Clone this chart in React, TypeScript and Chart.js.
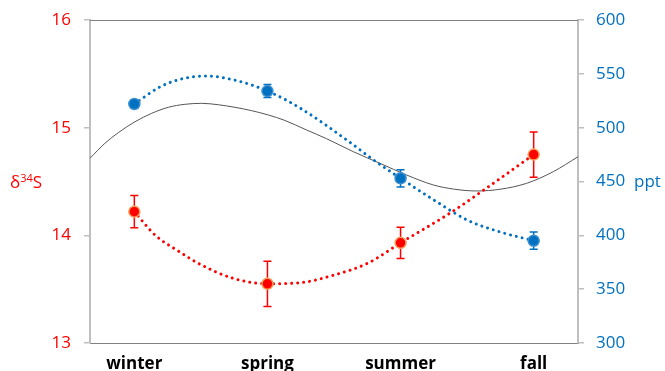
import React, { useEffect, useRef } from 'react';
import { Chart, registerables } from 'chart.js';
Chart.register(...registerables);

const seasons = ['winter', 'spring', 'summer', 'fall'];
const seasonX = [0, 1, 2, 3];
const d34S = [14.22, 13.55, 13.93, 14.75];
const d34SErr = [0.15, 0.21, 0.145, 0.21];
const ppt = [522, 534, 453, 395];
const pptErr = [4, 6, 8, 8];

const d34STrendX = [0, 0.158, 0.323, 0.496, 0.744, 1.0, 1.248, 1.496, 1.752, 2.0, 2.376, 2.624, 3.0];
const d34STrendY = [14.22, 14.0, 13.86, 13.73, 13.6, 13.55, 13.56, 13.63, 13.74, 13.93, 14.21, 14.42, 14.75];
const pptTrendX = [0, 0.195, 0.346, 0.534, 0.759, 1.0, 1.248, 1.624, 1.797, 2.0, 2.248, 2.504, 2.752, 3.0];
const pptTrendY = [522, 538, 545, 548, 544, 534, 518, 486, 470, 453, 433, 414, 403, 395];
const refX = [-0.333, -0.221, -0.121, 0.005, 0.13, 0.255, 0.38, 0.506, 0.63, 0.756, 0.881, 1.006, 1.131, 1.295, 1.445, 1.645, 1.845, 2.046, 2.246, 2.396, 2.572, 2.747, 2.947, 3.147, 3.333];
const refY = [14.716, 14.855, 14.953, 15.055, 15.133, 15.189, 15.217, 15.226, 15.213, 15.189, 15.158, 15.118, 15.067, 14.978, 14.897, 14.777, 14.669, 14.56, 14.468, 14.43, 14.412, 14.428, 14.483, 14.591, 14.73];

const leftTicks = [13, 14, 15, 16];
const rightTicks = [300, 350, 400, 450, 500, 550, 600];

const RED = '#FF0000';
const BLUE = '#0070C0';
const FONT = '"Open Sans", sans-serif';

const zip = (xs: number[], ys: number[]) => xs.map((x, i) => ({ x, y: ys[i] }));

const errorBarPlugin = {
  id: 'errorBars',
  beforeDatasetDraw(chart: any, args: any) {
    const ds = chart.data.datasets[args.index];
    if (!ds.errors) return;
    const ctx = chart.ctx;
    const xs = chart.scales.x;
    const ys = chart.scales[ds.yAxisID];
    ctx.save();
    ctx.strokeStyle = ds.errorColor;
    ctx.lineWidth = 1.5;
    ds.data.forEach((p: any, i: number) => {
      const px = xs.getPixelForValue(p.x);
      const top = ys.getPixelForValue(p.y + ds.errors[i]);
      const bot = ys.getPixelForValue(p.y - ds.errors[i]);
      ctx.beginPath();
      ctx.moveTo(px, top);
      ctx.lineTo(px, bot);
      ctx.moveTo(px - 4, top);
      ctx.lineTo(px + 4, top);
      ctx.moveTo(px - 4, bot);
      ctx.lineTo(px + 4, bot);
      ctx.stroke();
    });
    ctx.restore();
  },
};

const framePlugin = {
  id: 'frame',
  afterDraw(chart: any) {
    const { ctx, chartArea } = chart;
    ctx.save();
    ctx.strokeStyle = '#808080';
    ctx.lineWidth = 1;
    ctx.beginPath();
    ctx.moveTo(chartArea.left, chartArea.top + 0.5);
    ctx.lineTo(chartArea.right, chartArea.top + 0.5);
    ctx.stroke();

    ctx.textBaseline = 'alphabetic';
    ctx.textAlign = 'left';
    ctx.fillStyle = RED;
    let x = 10;
    const base = 188;
    ctx.font = '17px ' + FONT;
    ctx.fillText('δ', x, base);
    x += ctx.measureText('δ').width;
    ctx.font = '11px ' + FONT;
    ctx.fillText('34', x, base - 6);
    x += ctx.measureText('34').width;
    ctx.font = '17px ' + FONT;
    ctx.fillText('S', x, base);

    ctx.fillStyle = BLUE;
    ctx.fillText('ppt', 634, 187);
    ctx.restore();
  },
};

export default function App() {
  const ref = useRef<HTMLCanvasElement>(null);
  useEffect(() => {
    document.body.style.margin = '0';
    const chart = new Chart(ref.current as HTMLCanvasElement, {
      type: 'line',
      data: {
        datasets: [
          {
            data: zip(seasonX, d34S),
            yAxisID: 'y',
            showLine: false,
            pointRadius: 5.5,
            pointBackgroundColor: RED,
            pointBorderColor: '#F5A05A',
            pointBorderWidth: 1.5,
            errors: d34SErr,
            errorColor: RED,
            order: 0,
          } as any,
          {
            data: zip(seasonX, ppt),
            yAxisID: 'y1',
            showLine: false,
            pointRadius: 5.5,
            pointBackgroundColor: BLUE,
            pointBorderColor: '#3d8fd0',
            pointBorderWidth: 1.5,
            errors: pptErr,
            errorColor: BLUE,
            order: 1,
          } as any,
          {
            data: zip(d34STrendX, d34STrendY),
            yAxisID: 'y',
            borderColor: RED,
            borderWidth: 3,
            borderDash: [0.001, 6],
            borderCapStyle: 'round',
            pointRadius: 0,
            cubicInterpolationMode: 'monotone',
            order: 2,
          },
          {
            data: zip(pptTrendX, pptTrendY),
            yAxisID: 'y1',
            borderColor: BLUE,
            borderWidth: 3,
            borderDash: [0.001, 6],
            borderCapStyle: 'round',
            pointRadius: 0,
            cubicInterpolationMode: 'monotone',
            order: 3,
          },
          {
            data: zip(refX, refY),
            yAxisID: 'y',
            borderColor: '#555555',
            borderWidth: 1,
            pointRadius: 0,
            cubicInterpolationMode: 'monotone',
            order: 4,
          },
        ],
      },
      options: {
        responsive: false,
        animation: false,
        devicePixelRatio: 1,
        layout: { padding: { top: 20, left: 0, right: 0, bottom: 0 } },
        plugins: { legend: { display: false }, tooltip: { enabled: false } },
        scales: {
          x: {
            type: 'linear',
            min: -0.333,
            max: 3.333,
            afterBuildTicks: (s: any) => {
              s.ticks = seasonX.map((v) => ({ value: v }));
            },
            afterFit: (s: any) => {
              s.height = 28;
              s.paddingLeft = 0;
              s.paddingRight = 0;
            },
            grid: { display: false },
            border: { display: true, color: '#808080', width: 1 },
            ticks: {
              padding: 3,
              maxRotation: 0,
              color: '#000000',
              font: { family: FONT, size: 17, weight: 'bold' },
              callback: (v: any) => seasons[seasonX.indexOf(Number(v))] ?? '',
            },
          },
          y: {
            position: 'left',
            min: 13,
            max: 16,
            afterBuildTicks: (s: any) => {
              s.ticks = leftTicks.map((v) => ({ value: v }));
            },
            afterFit: (s: any) => {
              s.width = 90;
              s.paddingTop = 0;
              s.paddingBottom = 0;
            },
            grid: { display: true, drawOnChartArea: false, drawTicks: true, tickLength: 6, color: '#bfbfbf', lineWidth: 1.5 },
            border: { display: true, color: '#bfbfbf', width: 2 },
            ticks: { padding: 13, color: RED, font: { family: FONT, size: 17 } },
          },
          y1: {
            position: 'right',
            min: 300,
            max: 600,
            afterBuildTicks: (s: any) => {
              s.ticks = rightTicks.map((v) => ({ value: v }));
            },
            afterFit: (s: any) => {
              s.width = 87;
              s.paddingTop = 0;
              s.paddingBottom = 0;
            },
            grid: { display: true, drawOnChartArea: false, drawTicks: true, tickLength: 6, color: '#bfbfbf', lineWidth: 1.5 },
            border: { display: true, color: '#bfbfbf', width: 2 },
            ticks: { padding: 12, color: BLUE, font: { family: FONT, size: 17 } },
          },
        },
      } as any,
      plugins: [errorBarPlugin, framePlugin],
    });
    return () => chart.destroy();
  }, []);
  return (
    <div style={{ position: 'absolute', left: 0, top: 0, width: 665, height: 371 }}>
      <canvas ref={ref} width={665} height={371} />
    </div>
  );
}
